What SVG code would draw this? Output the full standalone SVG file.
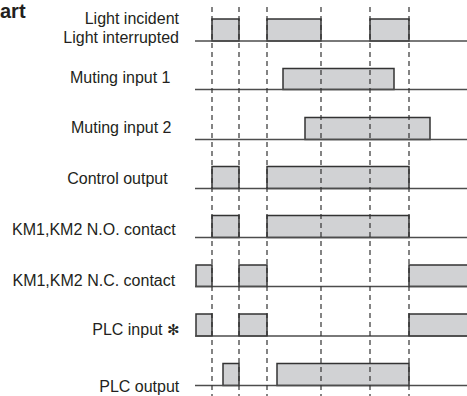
<svg xmlns="http://www.w3.org/2000/svg" width="467" height="396" viewBox="0 0 467 396">
<style>
.lbl{font-family:"Liberation Sans",Arial,sans-serif;font-size:16px;fill:#231f20;text-anchor:end}
.ttl{font-family:"Liberation Sans",Arial,sans-serif;font-size:20px;font-weight:bold;fill:#231f20}
.base{stroke:#4d4d4d;stroke-width:1.3;fill:none}
.pulse{fill:#d1d2d4;stroke:#333;stroke-width:1.5}
.dash{stroke:#333;stroke-width:1.2;stroke-dasharray:5 4;fill:none}
</style>
<rect width="467" height="396" fill="#fff"/>
<text class="ttl" x="0" y="18">art</text>
<g id="labels">
<text class="lbl" x="179" y="24">Light incident</text>
<text class="lbl" x="179" y="43">Light interrupted</text>
<text class="lbl" x="170.5" y="83.3">Muting input 1</text>
<text class="lbl" x="171.5" y="132.7">Muting input 2</text>
<text class="lbl" x="167.7" y="184">Control output</text>
<text class="lbl" x="175.7" y="234.7">KM1,KM2 N.O. contact</text>
<text class="lbl" x="175.2" y="286">KM1,KM2 N.C. contact</text>
<text class="lbl" x="179.5" y="335">PLC input <tspan font-family="DejaVu Sans,sans-serif" font-size="15">✻</tspan></text>
<text class="lbl" x="179.3" y="391.7">PLC output</text>
</g>
<g id="row-light">
<rect class="pulse" x="212" y="19" width="27" height="22"/>
<rect class="pulse" x="267" y="19" width="54" height="22"/>
<rect class="pulse" x="370" y="19" width="39" height="22"/>
<line class="base" x1="195" y1="41" x2="467" y2="41"/>
</g>
<g id="row-muting1">
<rect class="pulse" x="283" y="68.5" width="111" height="21"/>
<line class="base" x1="195" y1="89.5" x2="467" y2="89.5"/>
</g>
<g id="row-muting2">
<rect class="pulse" x="305" y="117.5" width="125" height="22"/>
<line class="base" x1="195" y1="139.5" x2="467" y2="139.5"/>
</g>
<g id="row-control">
<rect class="pulse" x="212" y="166.5" width="27" height="22"/>
<rect class="pulse" x="267" y="166.5" width="142" height="22"/>
<line class="base" x1="195" y1="188.5" x2="467" y2="188.5"/>
</g>
<g id="row-km-no">
<rect class="pulse" x="212" y="215.5" width="27" height="22"/>
<rect class="pulse" x="267" y="215.5" width="142" height="22"/>
<line class="base" x1="195" y1="237.5" x2="467" y2="237.5"/>
</g>
<g id="row-km-nc">
<rect class="pulse" x="196" y="265" width="16" height="21.5"/>
<rect class="pulse" x="239" y="265" width="28" height="21.5"/>
<rect class="pulse" x="409" y="265" width="62" height="21.5"/>
<line class="base" x1="195" y1="286.5" x2="467" y2="286.5"/>
</g>
<g id="row-plc-in">
<rect class="pulse" x="196" y="314" width="16" height="22"/>
<rect class="pulse" x="239" y="314" width="28" height="22"/>
<rect class="pulse" x="409" y="314" width="62" height="22"/>
<line class="base" x1="195" y1="336" x2="467" y2="336"/>
</g>
<g id="row-plc-out">
<rect class="pulse" x="223" y="363.5" width="16" height="22"/>
<rect class="pulse" x="277" y="363.5" width="132" height="22"/>
<line class="base" x1="195" y1="385.5" x2="467" y2="385.5"/>
</g>
<g id="connectors">
<line class="dash" x1="212" y1="7" x2="212" y2="396"/>
<line class="dash" x1="239" y1="7" x2="239" y2="396"/>
<line class="dash" x1="267" y1="7" x2="267" y2="396"/>
<line class="dash" x1="321" y1="7" x2="321" y2="396"/>
<line class="dash" x1="370" y1="7" x2="370" y2="396"/>
<line class="dash" x1="409" y1="7" x2="409" y2="396"/>
</g>
</svg>
